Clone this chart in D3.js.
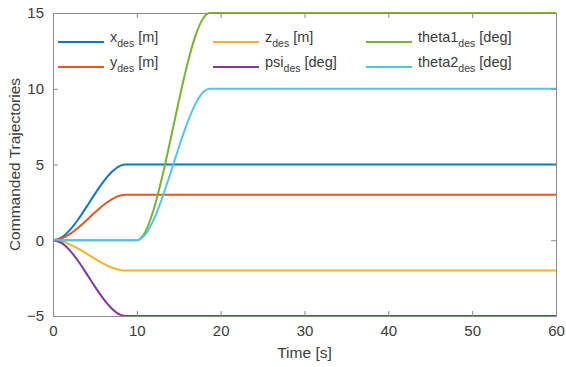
<!DOCTYPE html>
<html>
<head>
<meta charset="utf-8">
<script src="https://cdn.jsdelivr.net/npm/d3@7/dist/d3.min.js"></script>
<style>
  body { margin: 0; background: #fff; }
  svg { display: block; font-family: "Liberation Sans", Arial, sans-serif; }
</style>
</head>
<body>
<div id="chart"></div>
<script>
// time samples [s]
const time = [0, 1, 2, 3, 4, 5, 6, 7, 8, 8.7, 10, 11, 12, 13, 14, 15, 16, 17, 18, 18.7, 60];

const xDes = [0, 0.18, 0.67, 1.37, 2.20, 3.06, 3.85, 4.50, 4.91, 5, 5, 5, 5, 5, 5, 5, 5, 5, 5, 5, 5];
const yDes = [0, 0.11, 0.40, 0.82, 1.32, 1.83, 2.31, 2.70, 2.95, 3, 3, 3, 3, 3, 3, 3, 3, 3, 3, 3, 3];
const zDes = [0, -0.07, -0.27, -0.55, -0.88, -1.22, -1.54, -1.80, -1.96, -2, -2, -2, -2, -2, -2, -2, -2, -2, -2, -2, -2];
const psiDes = [0, -0.18, -0.67, -1.37, -2.20, -3.06, -3.85, -4.50, -4.91, -5, -5, -5, -5, -5, -5, -5, -5, -5, -5, -5, -5];
const theta1Des = [0, 0, 0, 0, 0, 0, 0, 0, 0, 0, 0, 0.55, 2.01, 4.12, 6.60, 9.17, 11.57, 13.51, 14.72, 15, 15];
const theta2Des = [0, 0, 0, 0, 0, 0, 0, 0, 0, 0, 0, 0.37, 1.34, 2.75, 4.40, 6.11, 7.71, 9.00, 9.82, 10, 10];

const xTicks = [0, 10, 20, 30, 40, 50, 60];
const yTicks = [-5, 0, 5, 10, 15];

const series = [
  { name: "x", unit: "[m]", color: "#0b78c4", values: xDes },
  { name: "y", unit: "[m]", color: "#e05a22", values: yDes },
  { name: "z", unit: "[m]", color: "#efb526", values: zDes },
  { name: "psi", unit: "[deg]", color: "#85369a", values: psiDes },
  { name: "theta1", unit: "[deg]", color: "#7ab233", values: theta1Des },
  { name: "theta2", unit: "[deg]", color: "#55c3f0", values: theta2Des }
];

const width = 566;
const height = 367;
const margin = { top: 13, right: 10, bottom: 51, left: 53 };

const svg = d3.select('#chart')
  .append('svg')
  .attr('width', width)
  .attr('height', height)

const xScale = d3.scaleLinear()
  .domain([0, 60])
  .range([margin.left, width - margin.right])

const yScale = d3.scaleLinear()
  .domain([-5, 15])
  .range([height - margin.bottom, margin.top])

const axisColor = "#8a8a8a";
const textColor = "#3a3a3a";

// curves
const line = d3.line()
  .x((d, i) => xScale(time[i]))
  .y(d => yScale(d))
  .curve(d3.curveMonotoneX)

svg.append('g')
  .selectAll('path')
  .data(series)
  .join('path')
  .attr('fill', 'none')
  .attr('stroke', d => d.color)
  .attr('stroke-width', 2)
  .attr('d', d => line(d.values))

// axes (box with inward ticks)
const tick = 5;
const xAxis = d3.axisBottom(xScale).tickValues(xTicks).tickSizeInner(-tick).tickSizeOuter(0).tickPadding(9);
const yAxis = d3.axisLeft(yScale).tickValues(yTicks).tickSizeInner(-tick).tickSizeOuter(0).tickPadding(9);
const xTop = d3.axisTop(xScale).tickValues(xTicks).tickSizeInner(-tick).tickSizeOuter(0).tickFormat('');
const yRight = d3.axisRight(yScale).tickValues(yTicks).tickSizeInner(-tick).tickSizeOuter(0).tickFormat('');

const gx = svg.append('g').attr('id', 'x-axis')
  .attr('transform', `translate(0, ${height - margin.bottom})`).call(xAxis)
const gy = svg.append('g').attr('id', 'y-axis')
  .attr('transform', `translate(${margin.left}, 0)`).call(yAxis)
const gt = svg.append('g')
  .attr('transform', `translate(0, ${margin.top})`).call(xTop)
const gr = svg.append('g')
  .attr('transform', `translate(${width - margin.right}, 0)`).call(yRight)

;[gx, gy, gt, gr].forEach(g => {
  g.selectAll('.domain').attr('stroke', axisColor).attr('stroke-width', 1)
  g.selectAll('.tick line').attr('stroke', axisColor)
  g.selectAll('.tick text').attr('fill', textColor).style('font-size', '15px')
})

// axis labels
svg.append('text')
  .attr('x', (margin.left + width - margin.right) / 2)
  .attr('y', 358)
  .attr('text-anchor', 'middle')
  .attr('fill', textColor)
  .style('font-size', '15.5px')
  .text('Time [s]')

svg.append('text')
  .attr('transform', `translate(20, ${(margin.top + height - margin.bottom) / 2}) rotate(-90)`)
  .attr('text-anchor', 'middle')
  .attr('fill', textColor)
  .style('font-size', '15.5px')
  .text('Commanded Trajectories')

// legend, 3 columns x 2 rows
const colX = [58, 213, 366];
const rowY = [42, 67];
const legend = svg.append('g')
  .selectAll('g')
  .data(series)
  .join('g')
  .attr('transform', (d, i) => `translate(${colX[Math.floor(i / 2)]}, ${rowY[i % 2]})`)

legend.append('line')
  .attr('x1', 0).attr('x2', 46)
  .attr('stroke', d => d.color)
  .attr('stroke-width', 2)

const lt = legend.append('text')
  .attr('x', 52)
  .attr('y', 0)
  .attr('fill', textColor)
  .style('font-size', '14.5px')

lt.append('tspan').text(d => d.name)
lt.append('tspan').attr('dy', 5).style('font-size', '10.5px').text('des')
lt.append('tspan').attr('dy', -5).text(d => ' ' + d.unit)
</script>
</body>
</html>
